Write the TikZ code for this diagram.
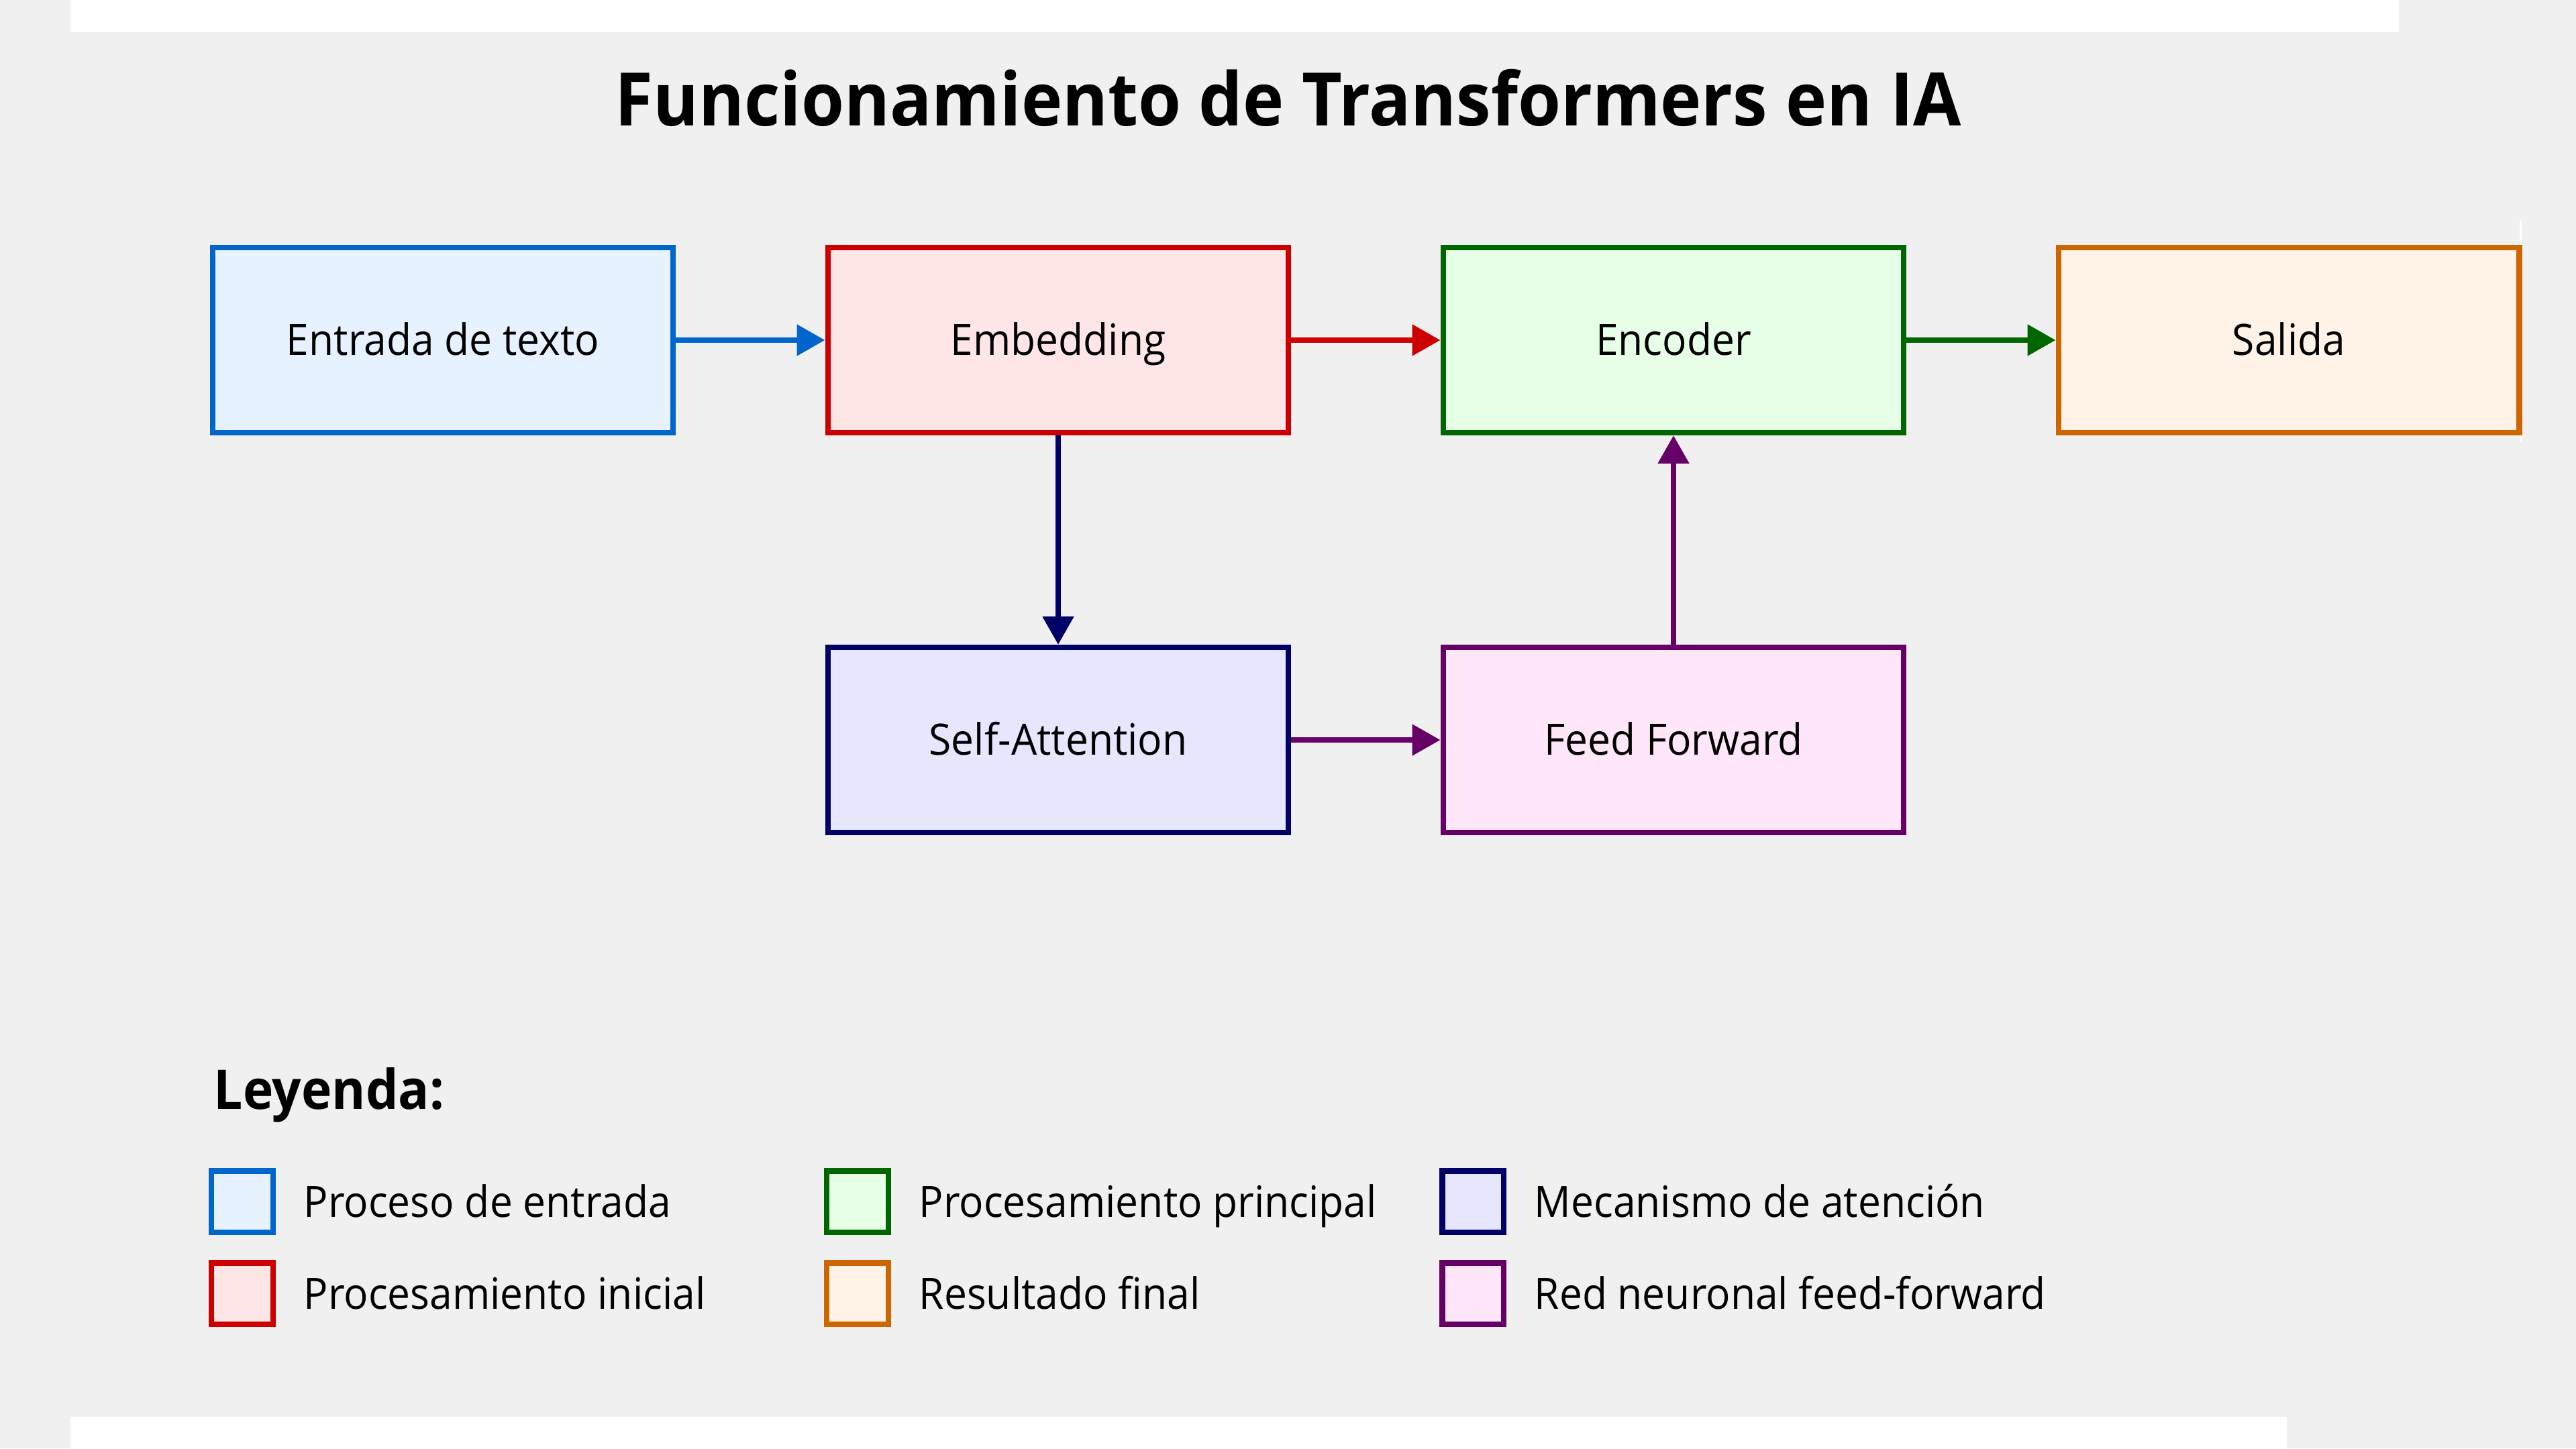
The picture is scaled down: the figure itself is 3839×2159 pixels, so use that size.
\documentclass[tikz,border=0pt]{standalone}
\usepackage{fontspec}
\setmainfont{Open Sans}[FakeStretch=0.94]
\usetikzlibrary{arrows.meta}
\definecolor{bgc}{HTML}{F0F0F0}
\definecolor{blueS}{HTML}{0066CC}\definecolor{blueF}{HTML}{E6F2FF}
\definecolor{redS}{HTML}{CC0000}\definecolor{redF}{HTML}{FFE6E6}
\definecolor{greenS}{HTML}{006600}\definecolor{greenF}{HTML}{E6FFE6}
\definecolor{orangeS}{HTML}{CC6600}\definecolor{orangeF}{HTML}{FFF2E6}
\definecolor{navyS}{HTML}{000066}\definecolor{navyF}{HTML}{E6E6FF}
\definecolor{purpleS}{HTML}{660066}\definecolor{purpleF}{HTML}{FFE6F8}
\tikzset{
  box/.style={rectangle, draw, line width=0.085cm, minimum width=6.86cm, minimum height=2.755cm,
    inner sep=0pt, text height=13pt, text depth=0pt, font=\fontsize{18.3pt}{22pt}\selectfont},
  arr/.style={line width=0.085cm, -{Triangle[length=0.42cm,width=0.45cm]}},
  legsq/.style={rectangle, draw, line width=0.085cm, minimum width=0.915cm, minimum height=0.915cm, inner sep=0pt},
  legtxt/.style={anchor=base west, inner sep=0pt, font=\fontsize{18.3pt}{22pt}\selectfont},
}
\begin{document}
\begin{tikzpicture}[x=0.01cm,y=-0.01cm]
\fill[bgc] (0,0) rectangle (3839,2159);
\useasboundingbox (0,0) rectangle (3839,2159);
\fill[white] (105,0) rectangle (3575,48);
\fill[white] (105,2112) rectangle (3408,2159);
\fill[white] (3755,328) rectangle (3758,659);

\node[anchor=base, inner sep=0pt, font=\fontsize{31.3pt}{38pt}\selectfont\bfseries] (title) at (1920,187) {Funcionamiento de Transformers en IA};

\node[box, draw=blueS, fill=blueF] (in) at (660,507) {Entrada de texto};
\node[box, draw=redS, fill=redF] (emb) at (1577,507) {Embedding};
\node[box, draw=greenS, fill=greenF] (enc) at (2494,507) {Encoder};
\node[box, draw=orangeS, fill=orangeF] (out) at (3411,507) {Salida};
\node[box, draw=navyS, fill=navyF] (sa) at (1577,1103) {Self-Attention};
\node[box, draw=purpleS, fill=purpleF] (ff) at (2494,1103) {Feed Forward};

\draw[arr, blueS] (in.east) -- (emb.west);
\draw[arr, redS] (emb.east) -- (enc.west);
\draw[arr, greenS] (enc.east) -- (out.west);
\draw[arr, navyS] (emb.south) -- (sa.north);
\draw[arr, purpleS] (sa.east) -- (ff.west);
\draw[arr, purpleS] (ff.north) -- (enc.south);

\node[anchor=base west, inner sep=0pt, font=\fontsize{23.2pt}{28pt}\selectfont\bfseries] (leg) at (318,1653) {Leyenda:};

\node[legsq, draw=blueS, fill=blueF] (l1) at (361,1791) {};
\node[legtxt] (t1) at (452,1814) {Proceso de entrada};
\node[legsq, draw=redS, fill=redF] (l2) at (361,1928) {};
\node[legtxt] (t2) at (452,1951) {Procesamiento inicial};
\node[legsq, draw=greenS, fill=greenF] (l3) at (1278,1791) {};
\node[legtxt] (t3) at (1369,1814) {Procesamiento principal};
\node[legsq, draw=orangeS, fill=orangeF] (l4) at (1278,1928) {};
\node[legtxt] (t4) at (1369,1951) {Resultado final};
\node[legsq, draw=navyS, fill=navyF] (l5) at (2195,1791) {};
\node[legtxt] (t5) at (2286,1814) {Mecanismo de atención};
\node[legsq, draw=purpleS, fill=purpleF] (l6) at (2195,1928) {};
\node[legtxt] (t6) at (2286,1951) {Red neuronal feed-forward};
\end{tikzpicture}
\end{document}
